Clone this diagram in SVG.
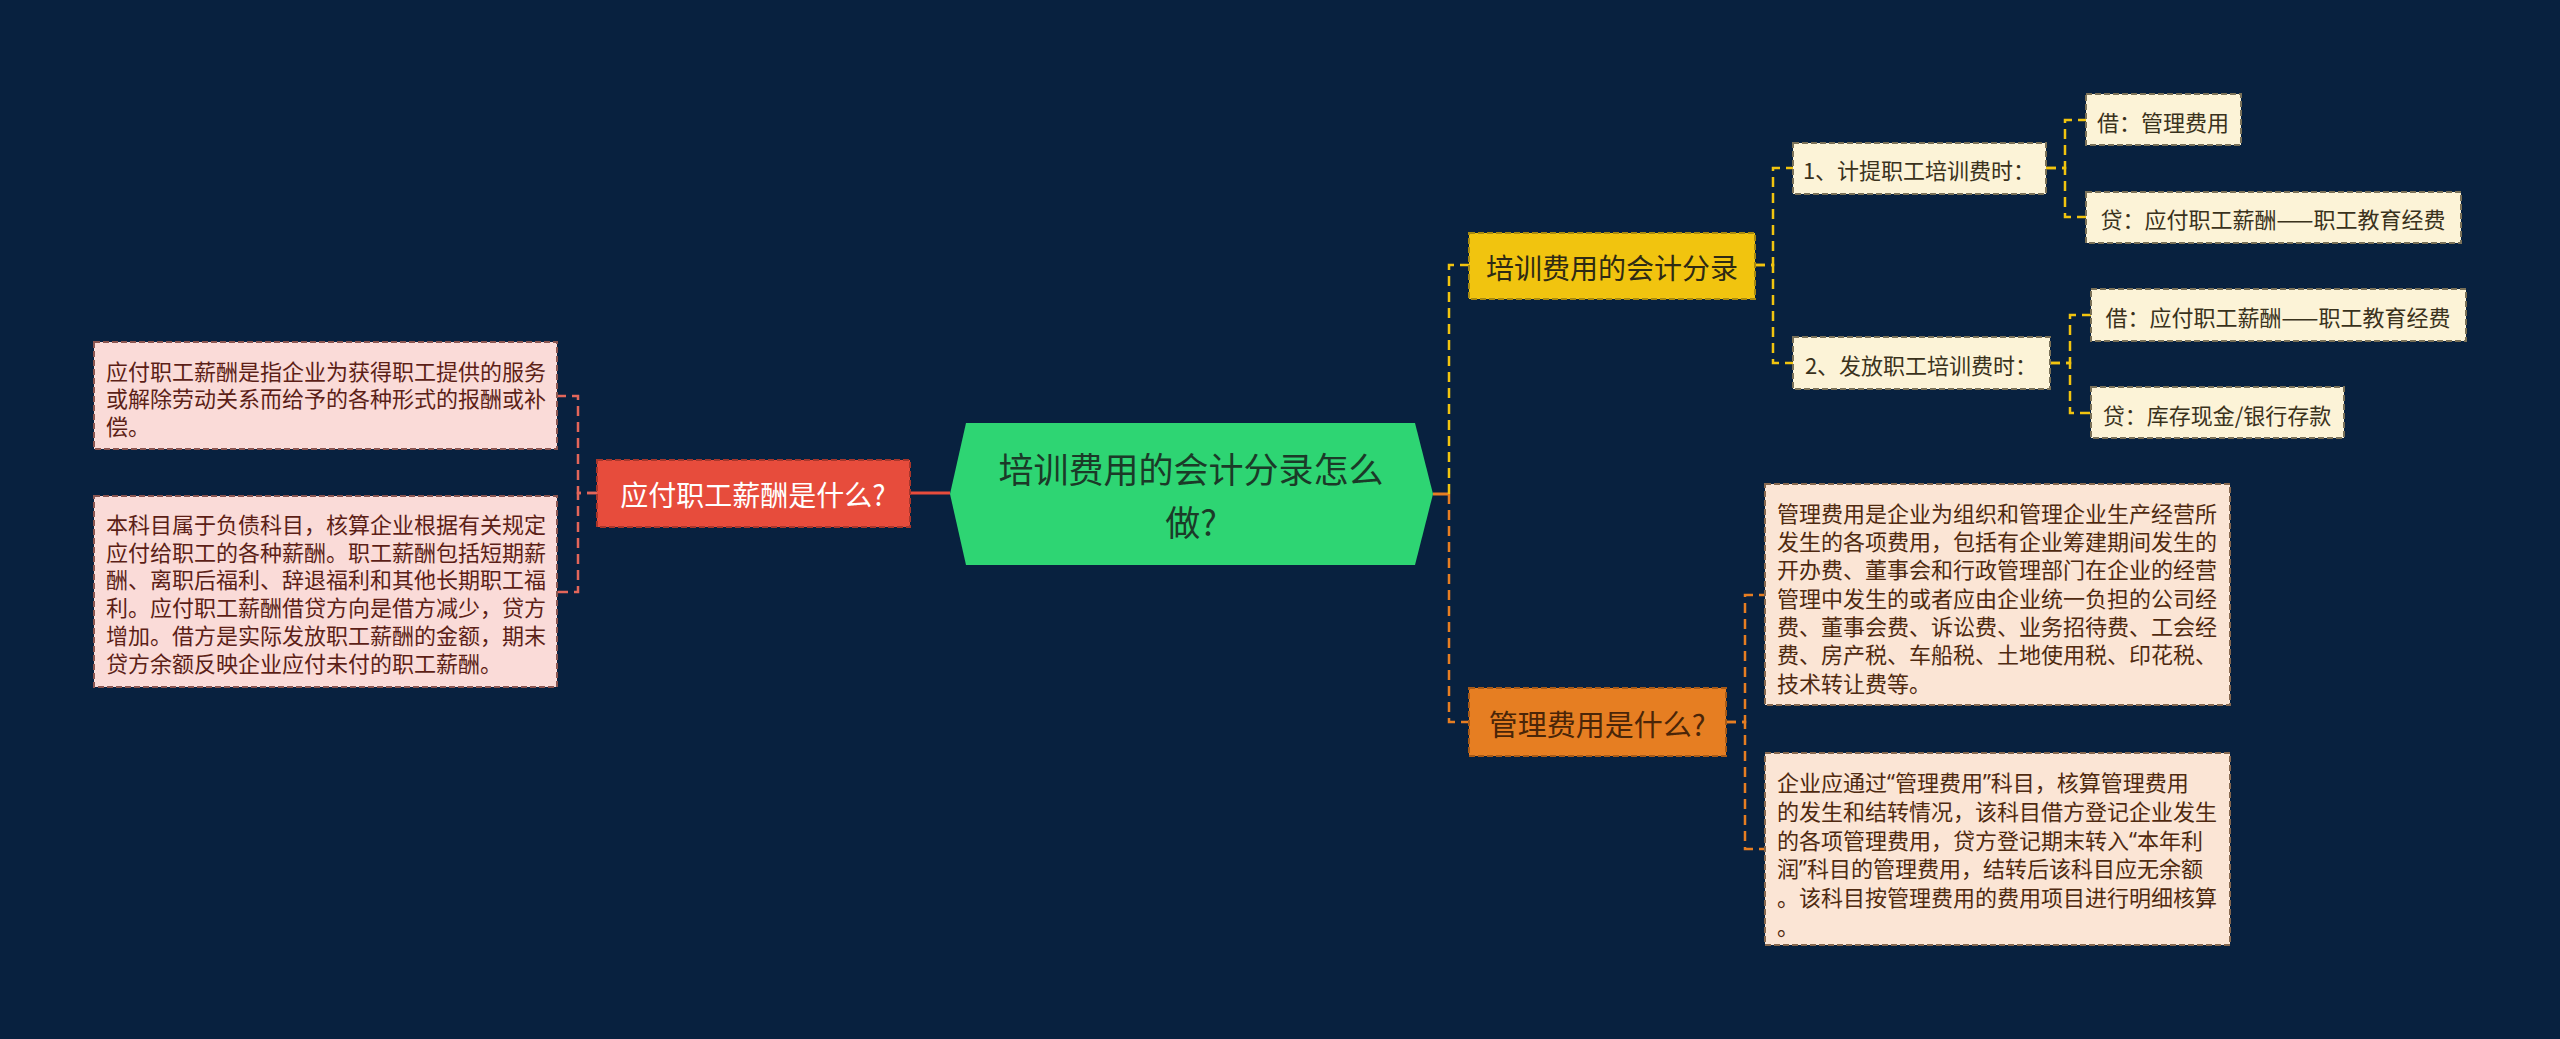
<svg xmlns="http://www.w3.org/2000/svg" width="2560" height="1039" viewBox="0 0 2560 1039">
<style>
text{font-family:"Noto Sans CJK SC","Noto Sans",sans-serif;dominant-baseline:central}
.q{font-family:"Noto Sans",sans-serif}
.c{fill:none;stroke-width:2.5;stroke-dasharray:10 6}
.cy{stroke:#f1c40f}.co{stroke:#e67e22}.cr{stroke:#e2665a}
.bx{stroke-width:2;stroke-dasharray:6 3}
.pink{fill:#fadbd8;stroke:#8a5550}
.cream{fill:#fcf3d7;stroke:#7a7158}
.peach{fill:#fbe5d5;stroke:#86684f}
.t22{font-size:22px}
.tp{fill:#5c1f17}.tc{fill:#3a321c}.tk{fill:#4f2a10}
</style>
<rect width="2560" height="1039" fill="#08213f"/>
<g id="connectors">
<path d="M910 493 H950" stroke="#e74c3c" stroke-width="3"/>
<path d="M1433 494 H1449" stroke="#e67e22" stroke-width="3"/>
<path class="c cr" d="M597 493 H578 V396 H557"/>
<path class="c cr" d="M597 493 H578 V592 H557"/>
<path class="c cy" d="M1449 494 V265 H1469"/>
<path class="c co" d="M1449 494 V722 H1469"/>
<path class="c cy" d="M1755 265 H1773 V168 H1793"/>
<path class="c cy" d="M1755 265 H1773 V363 H1793"/>
<path class="c cy" d="M2046 168 H2065 V120 H2086"/>
<path class="c cy" d="M2046 168 H2065 V217 H2086"/>
<path class="c cy" d="M2050 363 H2070 V315 H2091"/>
<path class="c cy" d="M2050 363 H2070 V413 H2091"/>
<path class="c co" d="M1726 722 H1745 V595 H1765"/>
<path class="c co" d="M1726 722 H1745 V849 H1765"/>
</g>
<g id="root">
<polygon points="966,423 1415,423 1433,494 1415,565 966,565 950,494" fill="#2ed573"/>
<text font-size="35" fill="#1b3a28" text-anchor="middle"><tspan x="1191" y="467">培训费用的会计分录怎么</tspan><tspan x="1191" y="520">做?</tspan></text>
</g>
<g id="n-salary">
<rect x="597" y="460" width="313" height="67" fill="#e74c3c" stroke="#a8362b" stroke-width="2" stroke-dasharray="6 3"/>
<text x="753" y="494" font-size="28" fill="#ffffff" text-anchor="middle">应付职工薪酬是什么?</text>
</g>
<g id="n-salary-def">
<rect class="bx pink" x="94" y="342" width="463" height="107"/>
<text class="t22 tp"><tspan x="106" y="370">应付职工薪酬是指企业为获得职工提供的服务</tspan><tspan x="106" y="397">或解除劳动关系而给予的各种形式的报酬或补</tspan><tspan x="106" y="425">偿。</tspan></text>
</g>
<g id="n-salary-acc">
<rect class="bx pink" x="94" y="496" width="463" height="191"/>
<text class="t22 tp"><tspan x="106" y="523">本科目属于负债科目，核算企业根据有关规定</tspan><tspan x="106" y="551">应付给职工的各种薪酬。职工薪酬包括短期薪</tspan><tspan x="106" y="578">酬、离职后福利、辞退福利和其他长期职工福</tspan><tspan x="106" y="606">利。应付职工薪酬借贷方向是借方减少，贷方</tspan><tspan x="106" y="634">增加。借方是实际发放职工薪酬的金额，期末</tspan><tspan x="106" y="662">贷方余额反映企业应付未付的职工薪酬。</tspan></text>
</g>
<g id="n-entry">
<rect x="1469" y="233" width="286" height="66" fill="#f1c40f" stroke="#a88a10" stroke-width="2" stroke-dasharray="6 3"/>
<text x="1612" y="267" font-size="28" fill="#2e2a14" text-anchor="middle">培训费用的会计分录</text>
</g>
<g id="n-step1">
<rect class="bx cream" x="1793" y="143" width="253" height="51"/>
<text class="t22 tc" x="1919" y="169" text-anchor="middle">1、计提职工培训费时：</text>
</g>
<g id="n-step1-dr">
<rect class="bx cream" x="2086" y="94" width="155" height="51"/>
<text class="t22 tc" x="2163" y="121" text-anchor="middle">借：管理费用</text>
</g>
<g id="n-step1-cr">
<rect class="bx cream" x="2086" y="192" width="375" height="51"/>
<text class="t22 tc" x="2273" y="218" text-anchor="middle">贷：应付职工薪酬——职工教育经费</text>
</g>
<g id="n-step2">
<rect class="bx cream" x="1793" y="337" width="257" height="52"/>
<text class="t22 tc" x="1921" y="364" text-anchor="middle">2、发放职工培训费时：</text>
</g>
<g id="n-step2-dr">
<rect class="bx cream" x="2091" y="289" width="375" height="52"/>
<text class="t22 tc" x="2278" y="316" text-anchor="middle">借：应付职工薪酬——职工教育经费</text>
</g>
<g id="n-step2-cr">
<rect class="bx cream" x="2091" y="387" width="253" height="51"/>
<text class="t22 tc" x="2217" y="414" text-anchor="middle">贷：库存现金/银行存款</text>
</g>
<g id="n-mgmt">
<rect x="1469" y="688" width="257" height="68" fill="#e67e22" stroke="#a85a17" stroke-width="2" stroke-dasharray="6 3"/>
<text x="1597" y="723" font-size="29" fill="#4a2508" text-anchor="middle">管理费用是什么?</text>
</g>
<g id="n-mgmt-def">
<rect class="bx peach" x="1765" y="484" width="465" height="221"/>
<text class="t22 tk"><tspan x="1777" y="512">管理费用是企业为组织和管理企业生产经营所</tspan><tspan x="1777" y="540">发生的各项费用，包括有企业筹建期间发生的</tspan><tspan x="1777" y="568">开办费、董事会和行政管理部门在企业的经营</tspan><tspan x="1777" y="597">管理中发生的或者应由企业统一负担的公司经</tspan><tspan x="1777" y="625">费、董事会费、诉讼费、业务招待费、工会经</tspan><tspan x="1777" y="653">费、房产税、车船税、土地使用税、印花税、</tspan><tspan x="1777" y="682">技术转让费等。</tspan></text>
</g>
<g id="n-mgmt-acc">
<rect class="bx peach" x="1765" y="753" width="465" height="192"/>
<text class="t22 tk"><tspan x="1777" y="781">企业应通过<tspan class="q">“</tspan>管理费用<tspan class="q">”</tspan>科目，核算管理费用</tspan><tspan x="1777" y="810">的发生和结转情况，该科目借方登记企业发生</tspan><tspan x="1777" y="839">的各项管理费用，贷方登记期末转入<tspan class="q">“</tspan>本年利</tspan><tspan x="1777" y="867">润<tspan class="q">”</tspan>科目的管理费用，结转后该科目应无余额</tspan><tspan x="1777" y="896">。该科目按管理费用的费用项目进行明细核算</tspan><tspan x="1777" y="925">。</tspan></text>
</g>
</svg>
